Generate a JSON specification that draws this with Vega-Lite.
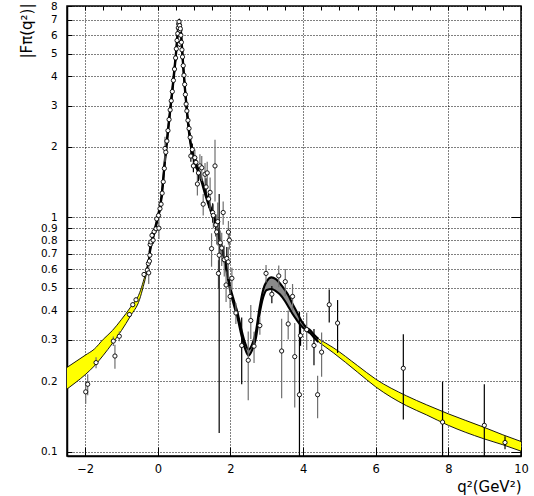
{
  "$schema": "https://vega.github.io/schema/vega-lite/v6.json",
  "width": 454,
  "height": 450,
  "autosize": "none",
  "padding": {"left": 67, "top": 6, "right": 13, "bottom": 40},
  "background": "white",
  "config": {
    "view": {"stroke": "black", "strokeWidth": 1.5},
    "font": "DejaVu Sans",
    "axis": {"labelColor": "black", "tickColor": "black", "domainColor": "black", "titleColor": "black", "titleFontWeight": "normal", "labelFont": "DejaVu Sans", "titleFont": "DejaVu Sans", "domainWidth": 1.5, "tickWidth": 1, "labelOverlap": false}
  },
  "datasets": {
    "band": [
      {"q": -2.5, "lo": 0.185, "hi": 0.229, "seg": "L"},
      {"q": -2.25, "lo": 0.198, "hi": 0.243, "seg": "L"},
      {"q": -2.0, "lo": 0.213, "hi": 0.258, "seg": "L"},
      {"q": -1.75, "lo": 0.232, "hi": 0.274, "seg": "L"},
      {"q": -1.5, "lo": 0.258, "hi": 0.302, "seg": "L"},
      {"q": -1.25, "lo": 0.29, "hi": 0.329, "seg": "L"},
      {"q": -1.0, "lo": 0.329, "hi": 0.367, "seg": "L"},
      {"q": -0.75, "lo": 0.38, "hi": 0.414, "seg": "L"},
      {"q": -0.5, "lo": 0.447, "hi": 0.477, "seg": "L"},
      {"q": -0.4, "lo": 0.507, "hi": 0.533, "seg": "L"},
      {"q": -0.3, "lo": 0.589, "hi": 0.611, "seg": "L"},
      {"q": -0.23, "lo": 0.693, "hi": 0.707, "seg": "L"},
      {"q": -0.23, "lo": 0.693, "hi": 0.707, "seg": "M"},
      {"q": -0.2, "lo": 0.735, "hi": 0.755, "seg": "M"},
      {"q": -0.1, "lo": 0.85, "hi": 0.872, "seg": "M"},
      {"q": 0.0, "lo": 0.99, "hi": 1.012, "seg": "M"},
      {"q": 0.1, "lo": 1.2, "hi": 1.23, "seg": "M"},
      {"q": 0.2, "lo": 1.75, "hi": 1.8, "seg": "M"},
      {"q": 0.3, "lo": 2.47, "hi": 2.55, "seg": "M"},
      {"q": 0.4, "lo": 3.43, "hi": 3.54, "seg": "M"},
      {"q": 0.5, "lo": 4.92, "hi": 5.08, "seg": "M"},
      {"q": 0.55, "lo": 6.05, "hi": 6.25, "seg": "M"},
      {"q": 0.59, "lo": 6.8, "hi": 7.0, "seg": "M"},
      {"q": 0.62, "lo": 6.5, "hi": 6.7, "seg": "M"},
      {"q": 0.65, "lo": 5.7, "hi": 5.9, "seg": "M"},
      {"q": 0.7, "lo": 4.35, "hi": 4.5, "seg": "M"},
      {"q": 0.75, "lo": 3.45, "hi": 3.56, "seg": "M"},
      {"q": 0.8, "lo": 2.83, "hi": 2.92, "seg": "M"},
      {"q": 0.85, "lo": 2.36, "hi": 2.44, "seg": "M"},
      {"q": 0.92, "lo": 1.97, "hi": 2.03, "seg": "M"},
      {"q": 1.0, "lo": 1.75, "hi": 1.81, "seg": "M"},
      {"q": 1.1, "lo": 1.58, "hi": 1.63, "seg": "M"},
      {"q": 1.2, "lo": 1.43, "hi": 1.47, "seg": "M"},
      {"q": 1.3, "lo": 1.26, "hi": 1.3, "seg": "M"},
      {"q": 1.4, "lo": 1.13, "hi": 1.17, "seg": "M"},
      {"q": 1.5, "lo": 1.02, "hi": 1.06, "seg": "M"},
      {"q": 1.6, "lo": 0.915, "hi": 0.945, "seg": "M"},
      {"q": 1.7, "lo": 0.8, "hi": 0.825, "seg": "M"},
      {"q": 1.8, "lo": 0.69, "hi": 0.71, "seg": "M"},
      {"q": 1.9, "lo": 0.58, "hi": 0.6, "seg": "M"},
      {"q": 2.0, "lo": 0.48, "hi": 0.5, "seg": "M"},
      {"q": 2.1, "lo": 0.42, "hi": 0.44, "seg": "M"},
      {"q": 2.2, "lo": 0.37, "hi": 0.39, "seg": "M"},
      {"q": 2.3, "lo": 0.315, "hi": 0.333, "seg": "M"},
      {"q": 2.4, "lo": 0.276, "hi": 0.292, "seg": "M"},
      {"q": 2.5, "lo": 0.257, "hi": 0.273, "seg": "M"},
      {"q": 2.6, "lo": 0.272, "hi": 0.288, "seg": "M"},
      {"q": 2.7, "lo": 0.305, "hi": 0.325, "seg": "M"},
      {"q": 2.8, "lo": 0.385, "hi": 0.41, "seg": "M"},
      {"q": 2.9, "lo": 0.455, "hi": 0.49, "seg": "M"},
      {"q": 3.0, "lo": 0.49, "hi": 0.535, "seg": "M"},
      {"q": 3.13, "lo": 0.495, "hi": 0.555, "seg": "M"},
      {"q": 3.25, "lo": 0.485, "hi": 0.545, "seg": "M"},
      {"q": 3.36, "lo": 0.47, "hi": 0.524, "seg": "M"},
      {"q": 3.5, "lo": 0.44, "hi": 0.49, "seg": "M"},
      {"q": 3.59, "lo": 0.417, "hi": 0.467, "seg": "M"},
      {"q": 3.7, "lo": 0.39, "hi": 0.43, "seg": "M"},
      {"q": 3.82, "lo": 0.366, "hi": 0.397, "seg": "M"},
      {"q": 3.96, "lo": 0.343, "hi": 0.36, "seg": "M"},
      {"q": 4.1, "lo": 0.328, "hi": 0.338, "seg": "M"},
      {"q": 4.19, "lo": 0.321, "hi": 0.331, "seg": "M"},
      {"q": 4.3, "lo": 0.307, "hi": 0.316, "seg": "M"},
      {"q": 4.42, "lo": 0.294, "hi": 0.303, "seg": "M"},
      {"q": 4.42, "lo": 0.294, "hi": 0.303, "seg": "R"},
      {"q": 4.83, "lo": 0.2646, "hi": 0.278, "seg": "R"},
      {"q": 5.5, "lo": 0.2184, "hi": 0.233, "seg": "R"},
      {"q": 6.0, "lo": 0.189, "hi": 0.204, "seg": "R"},
      {"q": 6.85, "lo": 0.157, "hi": 0.173, "seg": "R"},
      {"q": 7.4, "lo": 0.1435, "hi": 0.1585, "seg": "R"},
      {"q": 8.0, "lo": 0.1295, "hi": 0.145, "seg": "R"},
      {"q": 8.96, "lo": 0.1137, "hi": 0.1274, "seg": "R"},
      {"q": 9.5, "lo": 0.107, "hi": 0.118, "seg": "R"},
      {"q": 10.0, "lo": 0.1005, "hi": 0.1105, "seg": "R"}
    ],
    "pts": [
      {"q": -1.985, "v": 0.18, "lo": 0.16, "hi": 0.2, "c": "g"},
      {"q": -1.93, "v": 0.194, "lo": 0.174, "hi": 0.214, "c": "g"},
      {"q": -1.7, "v": 0.24, "lo": 0.227, "hi": 0.253, "c": "g"},
      {"q": -1.225, "v": 0.2965, "lo": 0.2825, "hi": 0.3105, "c": "g"},
      {"q": -1.18, "v": 0.256, "lo": 0.226, "hi": 0.286, "c": "g"},
      {"q": -1.06, "v": 0.311, "lo": 0.296, "hi": 0.326, "c": "g"},
      {"q": -0.78, "v": 0.385, "lo": 0.376, "hi": 0.394, "c": "k"},
      {"q": -0.69, "v": 0.424, "lo": 0.415, "hi": 0.433, "c": "k"},
      {"q": -0.6, "v": 0.445, "lo": 0.436, "hi": 0.454, "c": "k"},
      {"q": -0.38, "v": 0.571, "lo": 0.559, "hi": 0.583, "c": "k"},
      {"q": -0.29, "v": 0.596, "lo": 0.576, "hi": 0.616, "c": "k"},
      {"q": -0.26, "v": 0.636, "lo": 0.616, "hi": 0.656, "c": "k"},
      {"q": -0.25, "v": 0.58, "lo": 0.52, "hi": 0.64, "c": "g"},
      {"q": -0.23, "v": 0.651, "lo": 0.631, "hi": 0.671, "c": "k"},
      {"q": -0.22, "v": 0.69, "lo": 0.67, "hi": 0.71, "c": "k"},
      {"q": -0.21, "v": 0.766, "lo": 0.746, "hi": 0.786, "c": "k"},
      {"q": -0.19, "v": 0.786, "lo": 0.766, "hi": 0.806, "c": "k"},
      {"q": -0.16, "v": 0.839, "lo": 0.814, "hi": 0.864, "c": "k"},
      {"q": -0.13, "v": 0.8, "lo": 0.77, "hi": 0.83, "c": "k"},
      {"q": -0.1, "v": 0.87, "lo": 0.84, "hi": 0.9, "c": "k"},
      {"q": -0.05, "v": 0.895, "lo": 0.865, "hi": 0.925, "c": "k"},
      {"q": 0.03, "v": 0.9, "lo": 0.81, "hi": 0.99, "c": "g"},
      {"q": -0.03, "v": 0.986, "lo": 0.956, "hi": 1.016, "c": "k"},
      {"q": 0.02, "v": 1.02, "lo": 0.99, "hi": 1.05, "c": "k"},
      {"q": 0.06, "v": 1.09, "lo": 1.05, "hi": 1.13, "c": "k"},
      {"q": 0.09, "v": 1.14, "lo": 1.1, "hi": 1.18, "c": "k"},
      {"q": 0.12, "v": 1.27, "lo": 1.22, "hi": 1.32, "c": "k"},
      {"q": 0.15, "v": 1.42, "lo": 1.36, "hi": 1.48, "c": "k"},
      {"q": 0.18, "v": 1.62, "lo": 1.56, "hi": 1.68, "c": "k"},
      {"q": 0.198, "v": 1.97, "lo": 1.73, "hi": 2.21, "c": "g"},
      {"q": 0.22, "v": 1.9, "lo": 1.83, "hi": 1.97, "c": "k"},
      {"q": 0.25, "v": 2.12, "lo": 2.04, "hi": 2.2, "c": "k"},
      {"q": 0.28, "v": 2.35, "lo": 2.27, "hi": 2.43, "c": "k"},
      {"q": 0.31, "v": 2.62, "lo": 2.53, "hi": 2.71, "c": "k"},
      {"q": 0.34, "v": 2.88, "lo": 2.78, "hi": 2.98, "c": "k"},
      {"q": 0.37, "v": 3.15, "lo": 3.05, "hi": 3.25, "c": "k"},
      {"q": 0.4, "v": 3.45, "lo": 3.35, "hi": 3.55, "c": "k"},
      {"q": 0.43, "v": 3.85, "lo": 3.73, "hi": 3.97, "c": "k"},
      {"q": 0.46, "v": 4.3, "lo": 4.18, "hi": 4.42, "c": "k"},
      {"q": 0.49, "v": 4.8, "lo": 4.67, "hi": 4.93, "c": "k"},
      {"q": 0.51, "v": 5.25, "lo": 5.1, "hi": 5.4, "c": "k"},
      {"q": 0.53, "v": 5.7, "lo": 5.55, "hi": 5.85, "c": "k"},
      {"q": 0.55, "v": 6.1, "lo": 5.95, "hi": 6.25, "c": "k"},
      {"q": 0.565, "v": 6.45, "lo": 6.3, "hi": 6.6, "c": "k"},
      {"q": 0.575, "v": 6.7, "lo": 6.55, "hi": 6.85, "c": "k"},
      {"q": 0.585, "v": 6.85, "lo": 6.7, "hi": 7.0, "c": "k"},
      {"q": 0.6, "v": 6.6, "lo": 6.45, "hi": 6.75, "c": "k"},
      {"q": 0.61, "v": 6.3, "lo": 6.15, "hi": 6.45, "c": "k"},
      {"q": 0.6, "v": 5.5, "lo": 5.35, "hi": 5.65, "c": "k"},
      {"q": 0.62, "v": 6.4, "lo": 6.25, "hi": 6.55, "c": "k"},
      {"q": 0.635, "v": 6.0, "lo": 5.85, "hi": 6.15, "c": "k"},
      {"q": 0.65, "v": 5.6, "lo": 5.45, "hi": 5.75, "c": "k"},
      {"q": 0.665, "v": 5.2, "lo": 5.06, "hi": 5.34, "c": "k"},
      {"q": 0.68, "v": 4.85, "lo": 4.72, "hi": 4.98, "c": "k"},
      {"q": 0.7, "v": 4.45, "lo": 4.33, "hi": 4.57, "c": "k"},
      {"q": 0.72, "v": 4.05, "lo": 3.93, "hi": 4.17, "c": "k"},
      {"q": 0.74, "v": 3.7, "lo": 3.6, "hi": 3.8, "c": "k"},
      {"q": 0.76, "v": 3.35, "lo": 3.25, "hi": 3.45, "c": "k"},
      {"q": 0.78, "v": 3.05, "lo": 2.95, "hi": 3.15, "c": "k"},
      {"q": 0.8, "v": 2.85, "lo": 2.75, "hi": 2.95, "c": "k"},
      {"q": 0.83, "v": 2.6, "lo": 2.5, "hi": 2.7, "c": "k"},
      {"q": 0.86, "v": 2.4, "lo": 2.3, "hi": 2.5, "c": "k"},
      {"q": 0.89, "v": 2.2, "lo": 2.1, "hi": 2.3, "c": "k"},
      {"q": 0.91, "v": 1.83, "lo": 1.73, "hi": 1.93, "c": "k"},
      {"q": 0.95, "v": 1.95, "lo": 1.83, "hi": 2.07, "c": "k"},
      {"q": 0.98, "v": 1.66, "lo": 1.56, "hi": 1.76, "c": "k"},
      {"q": 1.02, "v": 1.8, "lo": 1.65, "hi": 1.95, "c": "g"},
      {"q": 1.05, "v": 1.72, "lo": 1.62, "hi": 1.82, "c": "k"},
      {"q": 1.09, "v": 1.39, "lo": 1.24, "hi": 1.54, "c": "g"},
      {"q": 1.12, "v": 1.55, "lo": 1.43, "hi": 1.67, "c": "k"},
      {"q": 1.16, "v": 1.66, "lo": 1.46, "hi": 1.86, "c": "g"},
      {"q": 1.21, "v": 1.63, "lo": 1.43, "hi": 1.83, "c": "g"},
      {"q": 1.25, "v": 1.14, "lo": 1.02, "hi": 1.26, "c": "g"},
      {"q": 1.3, "v": 1.53, "lo": 1.35, "hi": 1.71, "c": "g"},
      {"q": 1.33, "v": 1.35, "lo": 1.23, "hi": 1.47, "c": "k"},
      {"q": 1.36, "v": 1.55, "lo": 1.37, "hi": 1.73, "c": "g"},
      {"q": 1.4, "v": 1.2, "lo": 1.1, "hi": 1.3, "c": "k"},
      {"q": 1.44, "v": 1.28, "lo": 1.08, "hi": 1.48, "c": "g"},
      {"q": 1.48, "v": 0.736, "lo": 0.616, "hi": 0.856, "c": "g"},
      {"q": 1.51, "v": 1.05, "lo": 0.95, "hi": 1.15, "c": "k"},
      {"q": 1.53, "v": 1.02, "lo": 0.9, "hi": 1.14, "c": "g"},
      {"q": 1.575, "v": 1.66, "lo": 1.17, "hi": 2.15, "c": "g"},
      {"q": 1.6, "v": 0.93, "lo": 0.83, "hi": 1.03, "c": "k"},
      {"q": 1.62, "v": 0.867, "lo": 0.767, "hi": 0.967, "c": "g"},
      {"q": 1.65, "v": 0.96, "lo": 0.76, "hi": 1.16, "c": "g"},
      {"q": 1.67, "v": 0.577, "lo": 0.497, "hi": 0.657, "c": "g"},
      {"q": 1.69, "v": 0.69, "lo": 0.12, "hi": 1.26, "c": "k"},
      {"q": 1.72, "v": 0.78, "lo": 0.68, "hi": 0.88, "c": "g"},
      {"q": 1.76, "v": 0.74, "lo": 0.62, "hi": 0.86, "c": "g"},
      {"q": 1.8, "v": 1.05, "lo": 0.93, "hi": 1.17, "c": "g"},
      {"q": 1.83, "v": 0.66, "lo": 0.56, "hi": 0.76, "c": "g"},
      {"q": 1.88, "v": 0.515, "lo": 0.435, "hi": 0.595, "c": "g"},
      {"q": 1.9, "v": 0.668, "lo": 0.588, "hi": 0.748, "c": "k"},
      {"q": 1.94, "v": 0.646, "lo": 0.546, "hi": 0.746, "c": "g"},
      {"q": 1.945, "v": 0.866, "lo": 0.766, "hi": 0.966, "c": "g"},
      {"q": 1.97, "v": 0.8, "lo": 0.73, "hi": 0.87, "c": "g"},
      {"q": 1.99, "v": 0.46, "lo": 0.41, "hi": 0.51, "c": "g"},
      {"q": 2.04, "v": 0.55, "lo": 0.49, "hi": 0.61, "c": "g"},
      {"q": 2.15, "v": 0.391, "lo": 0.351, "hi": 0.431, "c": "g"},
      {"q": 2.31, "v": 0.284, "lo": 0.194, "hi": 0.374, "c": "k"},
      {"q": 2.49, "v": 0.2456, "lo": 0.1656, "hi": 0.3256, "c": "g"},
      {"q": 2.56, "v": 0.363, "lo": 0.303, "hi": 0.423, "c": "g"},
      {"q": 2.65, "v": 0.282, "lo": 0.239, "hi": 0.325, "c": "g"},
      {"q": 2.81, "v": 0.3455, "lo": 0.3155, "hi": 0.3755, "c": "g"},
      {"q": 2.98, "v": 0.577, "lo": 0.527, "hi": 0.627, "c": "g"},
      {"q": 3.14, "v": 0.47, "lo": 0.43, "hi": 0.51, "c": "k"},
      {"q": 3.33, "v": 0.563, "lo": 0.503, "hi": 0.623, "c": "g"},
      {"q": 3.41, "v": 0.269, "lo": 0.169, "hi": 0.369, "c": "g"},
      {"q": 3.51, "v": 0.532, "lo": 0.462, "hi": 0.602, "c": "g"},
      {"q": 3.59, "v": 0.351, "lo": 0.301, "hi": 0.401, "c": "g"},
      {"q": 3.71, "v": 0.46, "lo": 0.4, "hi": 0.52, "c": "g"},
      {"q": 3.77, "v": 0.2545, "lo": 0.1545, "hi": 0.3545, "c": "g"},
      {"q": 3.9, "v": 0.175, "lo": 0.05, "hi": 0.395, "c": "k"},
      {"q": 3.93, "v": 0.313, "lo": 0.283, "hi": 0.343, "c": "k"},
      {"q": 4.1, "v": 0.332, "lo": 0.272, "hi": 0.392, "c": "g"},
      {"q": 4.3, "v": 0.284, "lo": 0.234, "hi": 0.334, "c": "k"},
      {"q": 4.4, "v": 0.175, "lo": 0.139, "hi": 0.211, "c": "g"},
      {"q": 4.51, "v": 0.266, "lo": 0.209, "hi": 0.323, "c": "g"},
      {"q": 4.72, "v": 0.424, "lo": 0.356, "hi": 0.492, "c": "k"},
      {"q": 4.95, "v": 0.354, "lo": 0.264, "hi": 0.444, "c": "k"},
      {"q": 6.76, "v": 0.227, "lo": 0.137, "hi": 0.317, "c": "k"},
      {"q": 7.84, "v": 0.1337, "lo": 0.05, "hi": 0.199, "c": "k"},
      {"q": 8.99, "v": 0.1295, "lo": 0.05, "hi": 0.194, "c": "k"},
      {"q": 9.56, "v": 0.1094, "lo": 0.1024, "hi": 0.1164, "c": "k"}
    ]
  },
  "resolve": {"scale": {"x": "shared", "y": "shared"}, "axis": {"x": "independent", "y": "independent"}},
  "layer": [
    {
      "data": {"name": "band"},
      "transform": [{"filter": "datum.seg !== 'M'"}],
      "mark": {"type": "area", "interpolate": "monotone", "fill": "#ffff00", "stroke": null},
      "encoding": {
        "x": {"field": "q", "type": "quantitative", "scale": {"domain": [-2.5, 10], "nice": false, "zero": false},
          "axis": {"values": [-2, 0, 2, 4, 6, 8, 10], "format": "d", "tickSize": -9, "labelPadding": 16, "labelFontSize": 11.5, "labelFlush": false, "grid": true, "gridDash": [1, 2], "gridColor": "black", "gridOpacity": 1, "gridWidth": 1,
            "title": "q²(GeV²)", "titleFontSize": 15, "titleAnchor": "end", "titleAlign": "right", "titleX": 454, "titleY": 35, "titleBaseline": "alphabetic"}},
        "y": {"field": "hi", "type": "quantitative", "scale": {"type": "log", "domain": [0.0958, 8], "nice": false, "zero": false},
          "axis": {"values": [0.1, 0.2, 0.3, 0.4, 0.5, 0.6, 0.7, 0.8, 0.9, 1, 2, 3, 4, 5, 6, 7, 8], "format": "~g", "tickSize": -5, "labelPadding": 15, "labelFontSize": 10.4, "labelFlush": false, "labelOverlap": false, "grid": true, "gridDash": [1, 2], "gridColor": "black", "gridOpacity": 1, "gridWidth": 1,
            "title": "|Fπ(q²)|", "titleFontSize": 15, "titleAnchor": "end", "titleAngle": 270, "titleAlign": "right", "titleBaseline": "alphabetic", "titleX": -36, "titleY": -3}},
        "y2": {"field": "lo"},
        "detail": {"field": "seg"}
      }
    },
    {
      "data": {"name": "band"},
      "transform": [{"filter": "datum.seg === 'M'"}],
      "mark": {"type": "area", "interpolate": "monotone", "fill": "#8a8a8a", "stroke": null},
      "encoding": {
        "x": {"field": "q", "type": "quantitative",
          "axis": {"values": [-2, -1.5, -1, -0.5, 0, 0.5, 1, 1.5, 2, 2.5, 3, 3.5, 4, 4.5, 5, 5.5, 6, 6.5, 7, 7.5, 8, 8.5, 9, 9.5, 10], "tickSize": -4, "labels": false, "domain": false, "grid": false, "title": null}},
        "y": {"field": "hi", "type": "quantitative",
          "axis": {"values": [0.1, 1], "tickSize": -10, "labels": false, "domain": false, "grid": false, "title": null}},
        "y2": {"field": "lo"}
      }
    },
    {
      "data": {"name": "band"},
      "transform": [{"filter": "datum.seg !== 'M'"}, {"fold": ["lo", "hi"], "as": ["edge", "val"]}],
      "mark": {"type": "line", "interpolate": "monotone", "color": "black", "strokeWidth": 0.9},
      "encoding": {
        "x": {"field": "q", "type": "quantitative", "axis": null},
        "y": {"field": "val", "type": "quantitative", "axis": null},
        "detail": [{"field": "seg"}, {"field": "edge"}]
      }
    },
    {
      "data": {"name": "band"},
      "transform": [{"filter": "datum.seg === 'M'"}, {"fold": ["lo", "hi"], "as": ["edge", "val"]}],
      "mark": {"type": "line", "interpolate": "monotone", "color": "black", "strokeWidth": 2.1},
      "encoding": {
        "x": {"field": "q", "type": "quantitative", "axis": null},
        "y": {"field": "val", "type": "quantitative", "axis": null},
        "detail": {"field": "edge"}
      }
    },
    {
      "data": {"name": "pts"},
      "mark": {"type": "rule", "clip": true, "strokeWidth": 1.2},
      "encoding": {
        "x": {"field": "q", "type": "quantitative", "axis": null},
        "y": {"field": "lo", "type": "quantitative", "axis": null},
        "y2": {"field": "hi"},
        "color": {"field": "c", "type": "nominal", "scale": {"domain": ["k", "g"], "range": ["#000000", "#707070"]}, "legend": null}
      }
    },
    {
      "data": {"name": "pts"},
      "mark": {"type": "point", "shape": "circle", "size": 18, "filled": false, "fill": "white", "stroke": "black", "strokeWidth": 0.9, "opacity": 1},
      "encoding": {
        "x": {"field": "q", "type": "quantitative", "axis": null},
        "y": {"field": "v", "type": "quantitative", "axis": null}
      }
    }
  ]
}
